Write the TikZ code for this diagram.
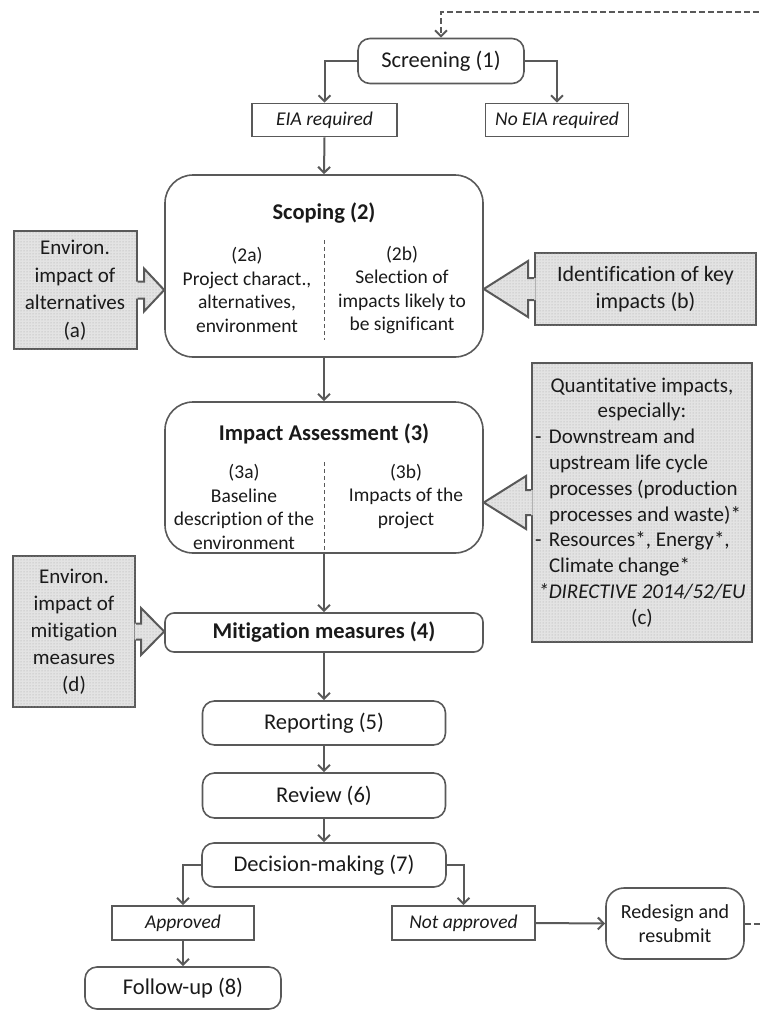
\documentclass[tikz,border=0pt]{standalone}
\usepackage{fontspec}
\setmainfont{Carlito}[Ligatures={NoCommon}]
\usetikzlibrary{arrows.meta,calc,patterns}
\definecolor{linegray}{HTML}{595959}
\definecolor{txt}{HTML}{1A1A1A}
\newcommand{\fsz}[2]{\fontsize{#1}{#2}\selectfont}
% block arrow: #1 base inside box, #2 base on box edge, #3 head base, #4 tip, #5 shaft half, #6 head half
\newcommand{\blockarr}[6]{%
  \fill[blockfill] let \p1=(#1), \p3=(#3), \p4=(#4) in
    ({\x1},{\y4+#5pt}) -- ({\x3},{\y4+#5pt}) -- ({\x3},{\y4+#6pt}) -- (\x4,\y4)
    -- ({\x3},{\y4-#6pt}) -- ({\x3},{\y4-#5pt}) -- ({\x1},{\y4-#5pt}) -- cycle;
  \draw[blockline] let \p2=(#2), \p3=(#3), \p4=(#4) in
    ({\x2},{\y4+#5pt}) -- ({\x3},{\y4+#5pt}) -- ({\x3},{\y4+#6pt}) -- (\x4,\y4)
    -- ({\x3},{\y4-#6pt}) -- ({\x3},{\y4-#5pt}) -- ({\x2},{\y4-#5pt});
}
\begin{document}
\begin{tikzpicture}[x=1pt,y=-1pt,
  box/.style={draw=linegray, line width=1.6pt, rounded corners=12pt, inner sep=0pt,
    align=center, font=\fsz{22.5}{27}, text=txt},
  lbl/.style={draw=linegray, line width=1.6pt, inner sep=0pt, font=\fsz{19.5}{23}\itshape, text=txt},
  side/.style={draw=linegray, line width=2pt, fill=gray!22,
    postaction={pattern=dots, pattern color=gray!70}, inner sep=0pt, align=center, text=txt},
  blockfill/.style={fill=gray!22, postaction={pattern=dots, pattern color=gray!70}},
  blockline/.style={draw=linegray, line width=2pt, line join=miter},
  coltxt/.style={inner sep=0pt, align=center, font=\fsz{19.5}{23.5}, text=txt},
  ttl/.style={inner sep=0pt, font=\fsz{22.5}{27}\bfseries, text=txt},
  arr/.style={draw=linegray, line width=2pt, -{Straight Barb[length=6pt,width=12pt]}},
  dasharr/.style={arr, dash pattern=on 6pt off 3pt},
  divider/.style={draw=linegray, line width=1pt, dash pattern=on 4pt off 3pt},
]
\useasboundingbox (0,0) rectangle (760,1010);

% main flow
\node[box, minimum width=166pt, minimum height=45pt] (scr) at (441,61) {Screening (1)};
\node[lbl, minimum width=145pt, minimum height=33pt] (eia) at (324.5,120) {EIA required};
\node[lbl, minimum width=143pt, minimum height=33pt] (noeia) at (557,120) {No EIA required};

\node[box, rounded corners=28pt, minimum width=318pt, minimum height=182pt] (sc) at (324,266) {};
\node[ttl] (scT) at (324,213) {Scoping (2)};
\node[coltxt] (sca) at (247,290) {(2a)\\Project charact.,\\alternatives,\\environment};
\node[coltxt] (scb) at (402,290) {(2b)\\Selection of\\impacts likely to\\be significant};
\draw[divider] (324,240) -- (324,340);

\node[box, rounded corners=28pt, minimum width=318pt, minimum height=151pt] (ia) at (324,477.5) {};
\node[ttl] (iaT) at (324,434) {Impact Assessment (3)};
\node[coltxt] (iaa) at (244,507) {(3a)\\Baseline\\description of the\\environment};
\node[coltxt] (iab) at (406,496.5) {(3b)\\Impacts of the\\project};
\draw[divider] (324,462) -- (324,552);

\node[box, rounded corners=9pt, minimum width=318pt, minimum height=39pt, font=\fsz{22.5}{27}\bfseries] (mit) at (324,632.5) {Mitigation measures (4)};
\node[box, minimum width=243pt, minimum height=44pt] (rep) at (324,723) {Reporting (5)};
\node[box, minimum width=243pt, minimum height=45pt] (rev) at (324,795.5) {Review (6)};
\node[box, minimum width=244pt, minimum height=44pt] (dec) at (324,865) {Decision-making (7)};
\node[lbl, minimum width=142pt, minimum height=34pt] (appr) at (183,923) {Approved};
\node[lbl, minimum width=143pt, minimum height=34pt] (nappr) at (463.5,923) {Not approved};
\node[box, rounded corners=18pt, minimum width=138pt, minimum height=71pt, font=\fsz{20}{23.5}] (redes) at (675,923.5) {Redesign and\\resubmit};
\node[box, minimum width=196pt, minimum height=42pt] (fol) at (183,988) {Follow-up (8)};

% side boxes
\node[side, minimum width=123pt, minimum height=118pt, font=\fsz{21}{27.5}] (alt) at (75,290) {Environ.\\impact of\\alternatives\\(a)};
\node[side, minimum width=221pt, minimum height=72pt, font=\fsz{22}{27}] (key) at (645.5,289) {Identification of key\\impacts (b)};
\node[side, minimum width=220pt, minimum height=279pt, font=\fsz{21}{25.8}] (quant) at (642,502.5) {\parbox{214pt}{%
  {\centering Quantitative impacts,\\ especially:\par}
  \hangindent=14pt\hangafter=1\noindent\makebox[14pt][l]{-}Downstream and\\upstream life cycle\\processes (production\\processes and waste)*\par
  \hangindent=14pt\hangafter=1\noindent\makebox[14pt][l]{-}Resources*, Energy*,\\Climate change*\par
  {\centering\itshape *DIRECTIVE 2014/52/EU\\ \upshape(c)\par}}};
\node[side, minimum width=122pt, minimum height=151pt, font=\fsz{21}{27}] (mitenv) at (74,631.5) {Environ.\\impact of\\mitigation\\measures\\(d)};

% block arrows
\blockarr{$(alt.east)+(-1.5,0)$}{alt.east}{$(alt.east)+(6.5,0)$}{sc.west |- alt.east}{8.5}{21.5}
\blockarr{$(key.west)+(1.5,0)$}{key.west}{$(key.west)+(-6,0)$}{sc.east |- key.west}{11}{28}
\blockarr{$(quant.west)+(1.5,0)$}{quant.west}{$(quant.west)+(-5,0)$}{ia.east |- quant.west}{12.5}{26.5}
\blockarr{$(mitenv.east)+(-1.5,0)$}{mitenv.east}{$(mitenv.east)+(5,0)$}{mit.west |- mitenv.east}{8}{23.5}

% connectors
\draw[arr] (scr.west) -| (eia.north);
\draw[arr] (scr.east) -| (noeia.north);
\draw[arr] (eia.south) -- (sc.north);
\draw[arr] (sc.south) -- (ia.north);
\draw[arr] (ia.south) -- (mit.north);
\draw[arr] (mit.south) -- (rep.north);
\draw[arr] (rep.south) -- (rev.north);
\draw[arr] (rev.south) -- (dec.north);
\draw[arr] (dec.west) -| (appr.north);
\draw[arr] (dec.east) -| (nappr.north);
\draw[arr] (appr.south) -- (fol.north);
\draw[arr] (nappr.east) -- (redes.west);
\coordinate (loopTR) at (800,12);
\draw[dasharr] (redes.east) -| (loopTR) -| (scr.north);
\end{tikzpicture}
\end{document}
